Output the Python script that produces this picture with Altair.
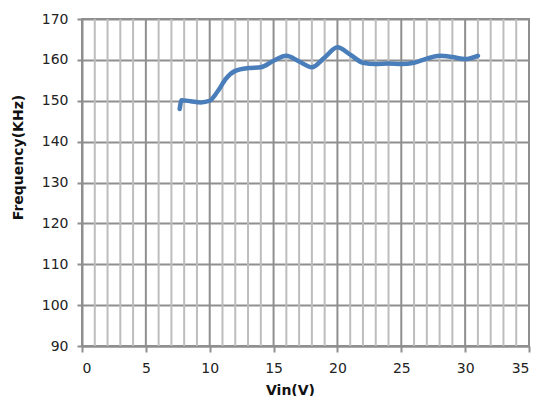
import altair as alt
import pandas as pd

vin = [7.65, 7.8, 8.5, 9.3, 10.0, 10.6, 11.3, 12.0, 13.0, 14.0, 15.0, 16.0, 17.0, 18.0, 19.0, 20.0, 21.0, 22.0, 23.0, 24.0, 25.0, 26.0, 27.0, 28.0, 29.0, 30.0, 31.0]
freq = [148.0, 150.1, 149.9, 149.6, 150.0, 152.2, 155.5, 157.3, 158.0, 158.2, 159.8, 161.0, 159.6, 158.2, 160.6, 163.1, 161.3, 159.3, 159.0, 159.1, 159.0, 159.3, 160.3, 161.0, 160.7, 160.2, 161.0]
minor_x = [v for v in range(1, 35) if v % 5 != 0]
major_x = [0, 5, 10, 15, 20, 25, 30, 35]
y_ticks = [90, 100, 110, 120, 130, 140, 150, 160, 170]

df = pd.DataFrame({"vin": vin, "freq": freq})
minor_df = pd.DataFrame({"vin": minor_x})
major_df = pd.DataFrame({"vin": major_x})

xscale = alt.Scale(domain=[0, 35], nice=False)
yscale = alt.Scale(domain=[90, 170], nice=False)
xaxis = alt.Axis(title="Vin(V)", values=major_x, grid=False, tickSize=6,
                 titleX=208, titleY=37)

minor = alt.Chart(minor_df).mark_rule(color="#bdbdbd", strokeWidth=2).encode(
    x=alt.X("vin:Q", scale=xscale, axis=xaxis)
)
major = alt.Chart(major_df).mark_rule(color="#8f8f8f", strokeWidth=2).encode(
    x=alt.X("vin:Q", scale=xscale, axis=xaxis)
)

line = alt.Chart(df).mark_line(
    color="#4a7ebb", strokeWidth=4.5, interpolate="monotone", strokeCap="round"
).encode(
    x=alt.X("vin:Q", scale=xscale, axis=xaxis),
    y=alt.Y("freq:Q", scale=yscale,
            axis=alt.Axis(title="Frequency(KHz)", values=y_ticks,
                          grid=True, gridColor="#8f8f8f", gridWidth=2, gridOpacity=1,
                          tickSize=5, titleY=138, titleX=-57)),
)

chart = alt.layer(minor, major, line).properties(
    width=447, height=327,
    autosize=alt.AutoSizeParams(type="none"),
    padding={"left": 74, "top": 11, "right": 4, "bottom": 50},
).configure_view(stroke="#8f8f8f", strokeWidth=2).configure_axis(
    labelFont="DejaVu Sans", labelFontSize=14, labelColor="#222222",
    titleFont="DejaVu Sans", titleFontSize=14, titleFontWeight="bold", titleColor="#111111",
    domainColor="#8f8f8f", domainWidth=2, tickColor="#8f8f8f", tickWidth=2,
    labelPadding=9,
)

chart.save("out.html", embed_options={"renderer": "svg", "actions": False})
